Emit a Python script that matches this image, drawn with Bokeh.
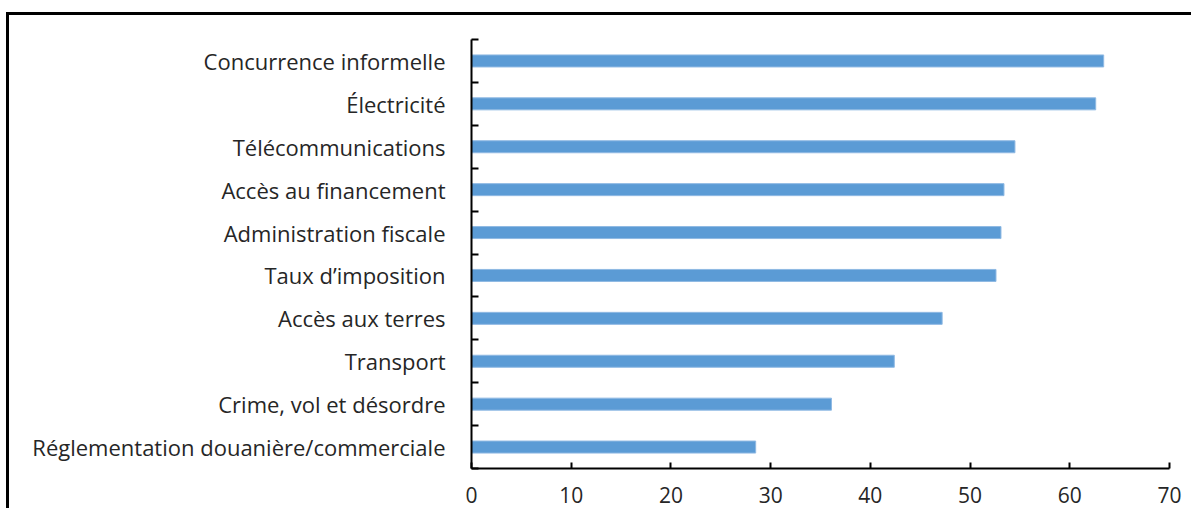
from bokeh.plotting import figure
from bokeh.models import FixedTicker, Range1d
from bokeh.embed import file_html
from bokeh.resources import INLINE

categories = [
    "Concurrence informelle",
    "Électricité",
    "Télécommunications",
    "Accès au financement",
    "Administration fiscale",
    "Taux d\u2019imposition",
    "Accès aux terres",
    "Transport",
    "Crime, vol et désordre",
    "Réglementation douanière/commerciale",
]
values = [63.4, 62.6, 54.5, 53.4, 53.1, 52.6, 47.2, 42.4, 36.1, 28.5]
x_ticks = [0, 10, 20, 30, 40, 50, 60, 70]

n = len(categories)
# position 0 is bottom; first category at top
ypos = [n - 0.5 - i for i in range(n)]

FONT = "Open Sans"
TXT = "#262626"

p = figure(
    width=1185, height=496,
    output_backend="svg", toolbar_location=None,
    x_range=Range1d(0, 70), y_range=Range1d(0, n),
    min_border_left=462, min_border_right=25,
    min_border_top=24, min_border_bottom=43,
)
p.styles = {"border-top": "3px solid black", "border-left": "3px solid black"}
p.margin = (12, 0, 0, 6)
p.outline_line_color = None
p.grid.visible = False
p.background_fill_color = "white"
p.border_fill_color = "white"

p.hbar(y=ypos, right=values, left=0, height=0.28,
       fill_color="#5B9BD5", line_color="#8FB9E3", line_width=1)

# Y axis
p.yaxis.ticker = FixedTicker(ticks=ypos, minor_ticks=list(range(n + 1)))
p.yaxis.major_label_overrides = {y: c for y, c in zip(ypos, categories)}
p.yaxis.major_tick_line_color = None
p.yaxis.minor_tick_in = 7
p.yaxis.minor_tick_out = 0
p.yaxis.minor_tick_line_color = "black"
p.yaxis.minor_tick_line_width = 2
p.yaxis.axis_line_color = "black"
p.yaxis.axis_line_width = 2
p.yaxis.major_label_standoff = 20
p.yaxis.major_label_text_font = FONT
p.yaxis.major_label_text_font_size = "22px"
p.yaxis.major_label_text_color = TXT

# X axis
p.xaxis.ticker = FixedTicker(ticks=x_ticks)
p.xaxis.major_tick_in = 6
p.xaxis.major_tick_out = 0
p.xaxis.minor_tick_line_color = None
p.xaxis.major_tick_line_color = "black"
p.xaxis.major_tick_line_width = 2
p.xaxis.axis_line_color = "black"
p.xaxis.axis_line_width = 2
p.xaxis.major_label_standoff = 18
p.xaxis.major_label_text_font = FONT
p.xaxis.major_label_text_font_size = "21px"
p.xaxis.major_label_text_color = TXT

open("out.html", "w").write(file_html(p, INLINE))
